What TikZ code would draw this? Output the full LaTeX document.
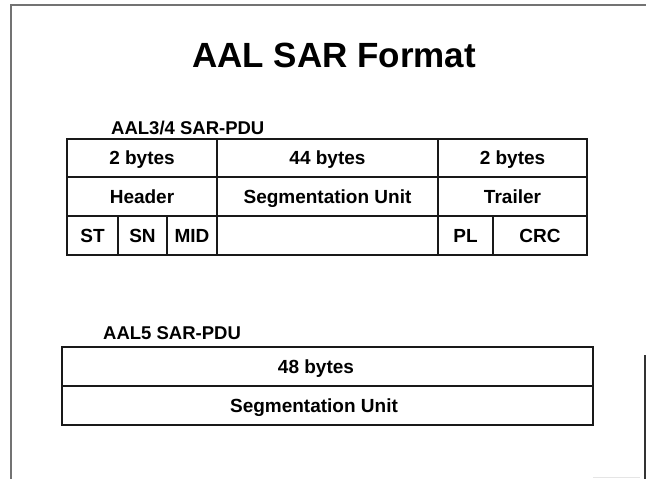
\documentclass[tikz,border=0pt]{standalone}
\usepackage{fontspec}
\setmainfont{Liberation Sans}
\begin{document}
\begin{tikzpicture}[x=1pt,y=-1pt,
  txt/.style={inner sep=0pt, text height=14pt, text depth=1pt, font=\fontsize{19}{22}\selectfont\bfseries},
  cell/.style={txt, draw=black!90, line width=2.6pt},
  lbl/.style={inner sep=0pt, font=\fontsize{18.5}{21}\selectfont\bfseries},
  frame/.style={draw=black!55, line width=2pt}]
\useasboundingbox (0,0) rectangle (646,479);
\fill[white] (0,0) rectangle (646,479);
% frame
\coordinate (fl) at (11,479);
\coordinate (ftl) at (11,4.5);
\coordinate (ftr) at (646,4.5);
\draw[frame] (fl) -- (ftl) -- (ftr);
\coordinate (fr1) at (645,355);
\coordinate (fr2) at (645,479);
\draw[black!80, line width=1.2pt] (fr1) -- (fr2);
\coordinate (fb1) at (593,477.5);
\coordinate (fb2) at (640,477.5);
\draw[black!10, line width=1pt] (fb1) -- (fb2);
% title
\node[inner sep=0pt, font=\fontsize{35}{40}\selectfont\bfseries] (title) at (334,55) {AAL SAR Format};
% table 1
\newcommand{\mkcell}[6]{\node[cell, minimum width={#4-#2}, minimum height={#5-#3}] (#1) at ({(#2+#4)/2},{(#3+#5)/2}) {#6};}
\node[lbl, anchor=west] (l1) at (111,128) {AAL3/4 SAR-PDU};
\mkcell{a1}{67}{139}{217}{177}{2 bytes}
\mkcell{a2}{217}{139}{438}{177}{44 bytes}
\mkcell{a3}{438}{139}{587}{177}{2 bytes}
\mkcell{b1}{67}{177}{217}{216}{Header}
\mkcell{b2}{217}{177}{438}{216}{Segmentation Unit}
\mkcell{b3}{438}{177}{587}{216}{Trailer}
\mkcell{st}{67}{216}{118}{255}{ST}
\mkcell{sn}{118}{216}{167}{255}{SN}
\mkcell{mid}{167}{216}{217}{255}{MID}
\mkcell{emp}{217}{216}{438}{255}{}
\mkcell{pl}{438}{216}{493}{255}{PL}
\mkcell{crc}{493}{216}{587}{255}{CRC}
% table 2
\node[lbl, anchor=west] (l2) at (103,333) {AAL5 SAR-PDU};
\mkcell{d1}{62}{347}{593}{386}{}
\mkcell{d2}{62}{386}{593}{425}{}
\node[txt] (t48) at (316,366.5) {48 bytes};
\node[txt] (tsu) at (314,405.5) {Segmentation Unit};
\end{tikzpicture}
\end{document}
